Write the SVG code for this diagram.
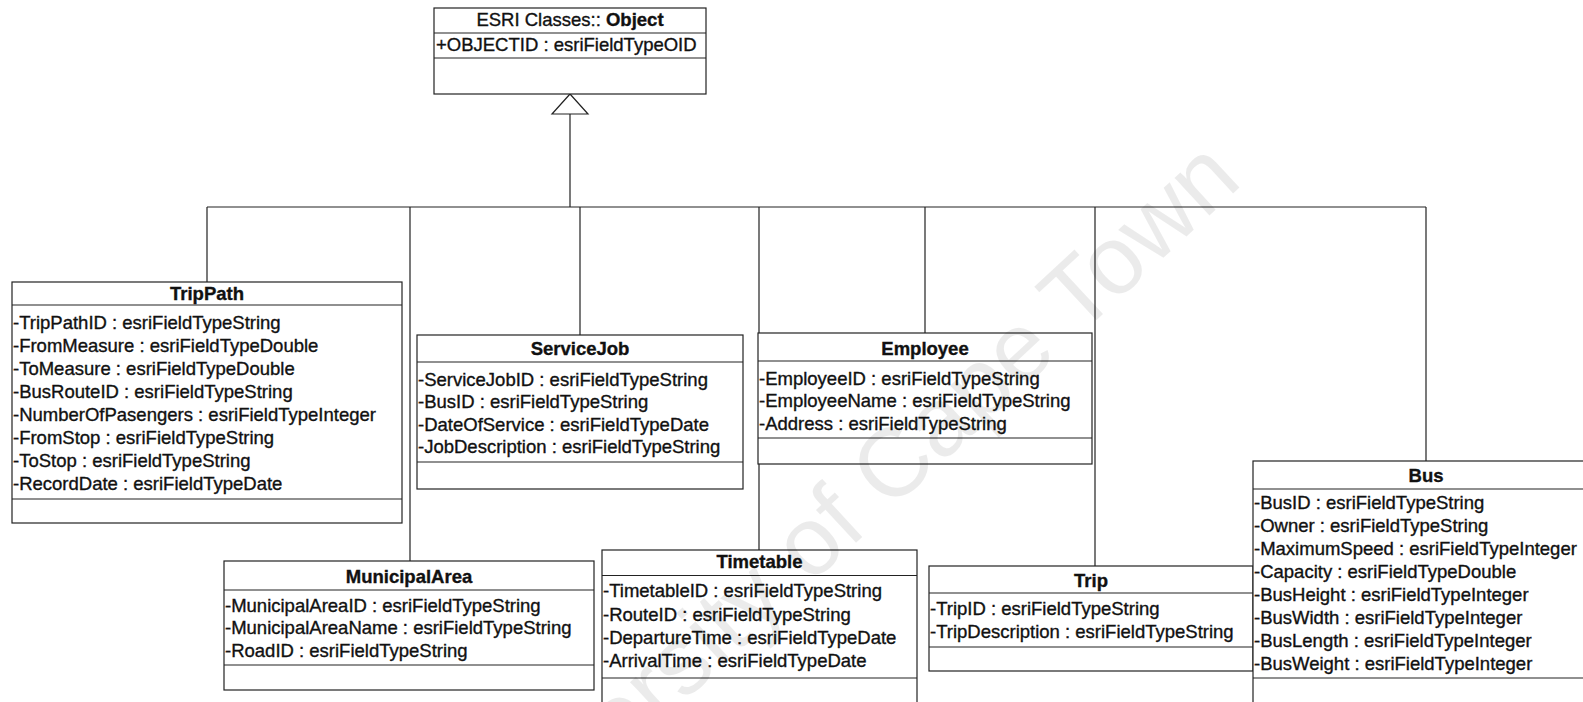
<svg xmlns="http://www.w3.org/2000/svg" width="1583" height="702" viewBox="0 0 1583 702">
<style>
.box{fill:#fff;stroke:#222;stroke-width:1.2}
.sep{stroke:#222;stroke-width:1.2}
.t{font-family:"Liberation Sans",Arial,sans-serif;font-size:18.5px;fill:#111;stroke:#111;stroke-width:0.35}
.h{font-weight:bold;text-anchor:middle}
.conn{fill:none;stroke:#222;stroke-width:1.2}
.wm{font-family:"Liberation Sans",Arial,sans-serif;font-size:97px;fill:#000;fill-opacity:0.08}
</style>
<rect width="1583" height="702" fill="#fff"/>
<g id="connectors">
<path class="conn" d="M570 114 V207 M207 207 H1426 M207 207 V282 M410 207 V561 M580 207 V335 M759 207 V550 M925 207 V333 M1095 207 V566 M1426 207 V461"/>
<polygon points="570,94 552,114 588,114" fill="#fff" stroke="#222" stroke-width="1.2"/>
</g>
<g id="object">
<rect class="box" x="434" y="8" width="272" height="86"/>
<line class="sep" x1="434" y1="33" x2="706" y2="33"/>
<line class="sep" x1="434" y1="58" x2="706" y2="58"/>
<text class="t" x="570" y="26" text-anchor="middle">ESRI Classes:: <tspan font-weight="bold">Object</tspan></text>
<text class="t" x="436" y="51">+OBJECTID : esriFieldTypeOID</text>
</g>
<g id="trippath">
<rect class="box" x="12" y="282" width="390" height="241"/>
<line class="sep" x1="12" y1="305" x2="402" y2="305"/>
<line class="sep" x1="12" y1="499" x2="402" y2="499"/>
<text class="t h" x="207" y="300">TripPath</text>
<text class="t" x="13" y="329">-TripPathID : esriFieldTypeString</text>
<text class="t" x="13" y="352">-FromMeasure : esriFieldTypeDouble</text>
<text class="t" x="13" y="375">-ToMeasure : esriFieldTypeDouble</text>
<text class="t" x="13" y="398">-BusRouteID : esriFieldTypeString</text>
<text class="t" x="13" y="421">-NumberOfPasengers : esriFieldTypeInteger</text>
<text class="t" x="13" y="444">-FromStop : esriFieldTypeString</text>
<text class="t" x="13" y="467">-ToStop : esriFieldTypeString</text>
<text class="t" x="13" y="490">-RecordDate : esriFieldTypeDate</text>
</g>
<g id="servicejob">
<rect class="box" x="417" y="335" width="326" height="154"/>
<line class="sep" x1="417" y1="362" x2="743" y2="362"/>
<line class="sep" x1="417" y1="462" x2="743" y2="462"/>
<text class="t h" x="580" y="355">ServiceJob</text>
<text class="t" x="418" y="385.5">-ServiceJobID : esriFieldTypeString</text>
<text class="t" x="418" y="408">-BusID : esriFieldTypeString</text>
<text class="t" x="418" y="430.5">-DateOfService : esriFieldTypeDate</text>
<text class="t" x="418" y="453">-JobDescription : esriFieldTypeString</text>
</g>
<g id="employee">
<rect class="box" x="758" y="333" width="334" height="131"/>
<line class="sep" x1="758" y1="361" x2="1092" y2="361"/>
<line class="sep" x1="758" y1="438" x2="1092" y2="438"/>
<text class="t h" x="925" y="355">Employee</text>
<text class="t" x="759" y="385">-EmployeeID : esriFieldTypeString</text>
<text class="t" x="759" y="407">-EmployeeName : esriFieldTypeString</text>
<text class="t" x="759" y="430">-Address : esriFieldTypeString</text>
</g>
<g id="municipalarea">
<rect class="box" x="224" y="561" width="370" height="129"/>
<line class="sep" x1="224" y1="590" x2="594" y2="590"/>
<line class="sep" x1="224" y1="665" x2="594" y2="665"/>
<text class="t h" x="409" y="582.5">MunicipalArea</text>
<text class="t" x="225" y="612">-MunicipalAreaID : esriFieldTypeString</text>
<text class="t" x="225" y="634">-MunicipalAreaName : esriFieldTypeString</text>
<text class="t" x="225" y="657">-RoadID : esriFieldTypeString</text>
</g>
<g id="timetable">
<rect class="box" x="602" y="550" width="315" height="170"/>
<line class="sep" x1="602" y1="575.5" x2="917" y2="575.5"/>
<line class="sep" x1="602" y1="678" x2="917" y2="678"/>
<text class="t h" x="759.5" y="568">Timetable</text>
<text class="t" x="603" y="597">-TimetableID : esriFieldTypeString</text>
<text class="t" x="603" y="621">-RouteID : esriFieldTypeString</text>
<text class="t" x="603" y="644">-DepartureTime : esriFieldTypeDate</text>
<text class="t" x="603" y="667">-ArrivalTime : esriFieldTypeDate</text>
</g>
<g id="trip">
<rect class="box" x="929" y="566" width="324" height="105"/>
<line class="sep" x1="929" y1="593" x2="1253" y2="593"/>
<line class="sep" x1="929" y1="647" x2="1253" y2="647"/>
<text class="t h" x="1091" y="586.5">Trip</text>
<text class="t" x="930" y="615">-TripID : esriFieldTypeString</text>
<text class="t" x="930" y="638">-TripDescription : esriFieldTypeString</text>
</g>
<g id="bus">
<rect class="box" x="1253" y="461" width="347" height="260"/>
<line class="sep" x1="1253" y1="489" x2="1600" y2="489"/>
<line class="sep" x1="1253" y1="678" x2="1600" y2="678"/>
<text class="t h" x="1426" y="481.5">Bus</text>
<text class="t" x="1254" y="509">-BusID : esriFieldTypeString</text>
<text class="t" x="1254" y="532">-Owner : esriFieldTypeString</text>
<text class="t" x="1254" y="555">-MaximumSpeed : esriFieldTypeInteger</text>
<text class="t" x="1254" y="578">-Capacity : esriFieldTypeDouble</text>
<text class="t" x="1254" y="601">-BusHeight : esriFieldTypeInteger</text>
<text class="t" x="1254" y="624">-BusWidth : esriFieldTypeInteger</text>
<text class="t" x="1254" y="647">-BusLength : esriFieldTypeInteger</text>
<text class="t" x="1254" y="670">-BusWeight : esriFieldTypeInteger</text>
</g>
<text class="wm" x="861" y="538" text-anchor="middle" transform="rotate(-42.8 861 538)">University of Cape Town</text>
</svg>
